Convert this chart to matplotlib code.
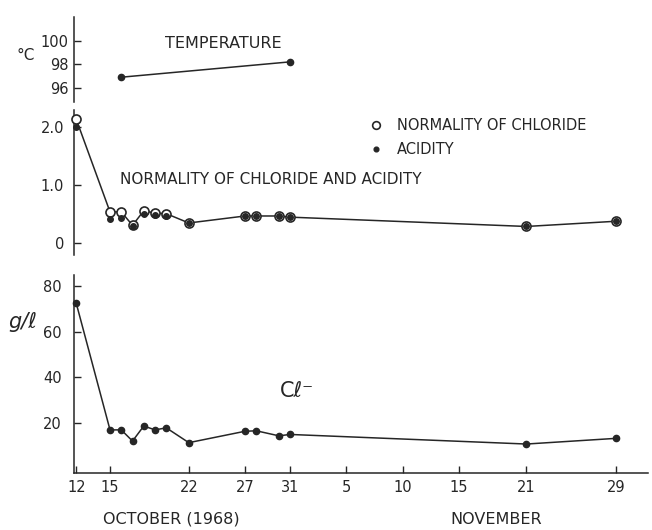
import matplotlib.pyplot as plt

# days counted from 12 October 1968
temp_days = [4, 19]
temp_values = [96.9, 98.2]

days = [0, 3, 4, 5, 6, 7, 8, 10, 15, 16, 18, 19, 40, 48]
chloride_normality = [2.13, 0.54, 0.54, 0.31, 0.56, 0.52, 0.51, 0.35, 0.47, 0.47, 0.47, 0.45, 0.29, 0.38]
acidity = [2.0, 0.41, 0.43, 0.30, 0.51, 0.48, 0.47, 0.35, 0.47, 0.47, 0.47, 0.45, 0.29, 0.38]
chloride_gl = [72.4, 16.9, 16.9, 12.0, 18.6, 16.9, 17.8, 11.3, 16.3, 16.5, 14.3, 14.9, 10.7, 13.2]

tick_days = [0, 3, 10, 15, 19, 24, 29, 34, 40, 48]
tick_labels = ['12', '15', '22', '27', '31', '5', '10', '15', '21', '29']

INK = '#262626'
W, H = 652, 530
XLIM = (-0.2, 50.8)

plt.rcParams['font.family'] = 'DejaVu Sans'
plt.rcParams['text.color'] = INK


def px_axes(fig, top, bottom, left=74, right=648):
    # axes box given in pixel coordinates of the picture
    return fig.add_axes([left / W, 1 - bottom / H, (right - left) / W, (bottom - top) / H])


def style(ax, bottom=False):
    for s in ['top', 'right']:
        ax.spines[s].set_visible(False)
    ax.spines['bottom'].set_visible(bottom)
    for s in ['left', 'bottom']:
        ax.spines[s].set_color(INK)
        ax.spines[s].set_linewidth(1.1)
    ax.tick_params(direction='in', length=5, width=1.0, color=INK,
                   labelcolor=INK, labelsize=10.5)
    ax.set_xlim(*XLIM)
    ax.patch.set_alpha(0)
    if not bottom:
        ax.set_xticks([])


def ftext(x, y, s, **kw):
    fig.text(x / W, 1 - y / H, s, color=INK, va='center', **kw)


fig = plt.figure(figsize=(W / 100, H / 100), dpi=100)

# temperature panel
ax_t = px_axes(fig, 17, 102)
style(ax_t)
ax_t.plot(temp_days, temp_values, color=INK, lw=1.1, marker='o', ms=4.5, clip_on=False)
ax_t.set_ylim(94.8, 102)
ax_t.set_yticks([96, 98, 100])
ax_t.tick_params(axis='y', pad=4)

# normality / acidity panel
ax_n = px_axes(fig, 110, 255)
style(ax_n)
ax_n.plot(days, chloride_normality, color=INK, lw=1.1, zorder=2, clip_on=False)
ax_n.plot(days, chloride_normality, ls='none', marker='o', ms=6.5, mfc='white',
          mec=INK, mew=1.2, zorder=3, clip_on=False, label='NORMALITY OF CHLORIDE')
ax_n.plot(days, acidity, ls='none', marker='o', ms=4.0, color=INK, zorder=4,
          clip_on=False, label='ACIDITY')
ax_n.set_ylim(-0.2, 2.29)
ax_n.set_yticks([0, 1, 2])
ax_n.set_yticklabels(['0', '1.0', '2.0'])
ax_n.tick_params(axis='y', pad=7)
ax_n.legend(loc='upper left', bbox_to_anchor=(363 / W, 1 - 111 / H),
            bbox_transform=fig.transFigure, frameon=False, borderpad=0,
            handlelength=0.8, handletextpad=1.0, labelspacing=0.6,
            prop={'size': 10.5}, labelcolor=INK, markerscale=0.85)

# chloride g/l panel
ax_c = px_axes(fig, 275, 473)
style(ax_c, bottom=True)
ax_c.plot(days, chloride_gl, color=INK, lw=1.1, marker='o', ms=4.5, clip_on=False)
ax_c.set_ylim(-2, 84.8)
ax_c.set_yticks([20, 40, 60, 80])
ax_c.set_xticks(tick_days)
ax_c.set_xticklabels(tick_labels)
ax_c.tick_params(axis='y', pad=9)
ax_c.tick_params(axis='x', pad=5)

# hand lettered labels
ftext(16, 56, '°C', fontsize=11)
ftext(165, 43, 'TEMPERATURE', fontsize=11.5)
ftext(120, 179, 'NORMALITY OF CHLORIDE AND ACIDITY', fontsize=11)
ftext(8, 322, 'g/ℓ', fontsize=15, style='italic')
ftext(280, 391, 'Cℓ⁻', fontsize=15)
ftext(103, 519, 'OCTOBER (1968)', fontsize=11.5)
ftext(450, 519, 'NOVEMBER', fontsize=11.5)

fig.savefig('out.png', dpi=100, facecolor='white')
